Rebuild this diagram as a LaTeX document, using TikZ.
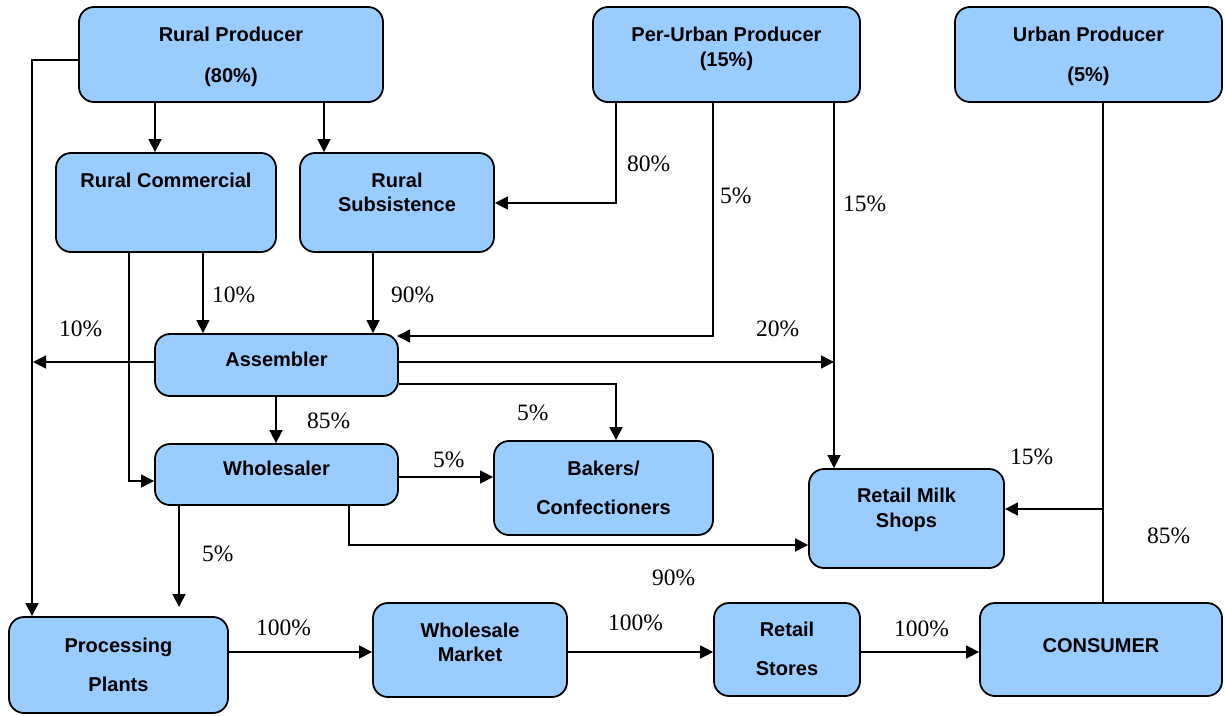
\documentclass[tikz,border=0pt]{standalone}
\usepackage{fontspec}
\setmainfont{Liberation Serif}
\newfontfamily\boxfont{Liberation Sans}
\usetikzlibrary{arrows.meta}
\definecolor{boxblue}{RGB}{153,204,255}
\tikzset{
  box/.style={draw=black, line width=1.8pt, rounded corners=15pt, fill=boxblue, inner sep=0pt},
  btxt/.style={anchor=base, inner sep=0pt, font=\boxfont\bfseries\fontsize{20}{24}\selectfont},
  pct/.style={anchor=base west, inner sep=0pt, font=\fontsize{23.5}{28}\selectfont},
  line/.style={draw=black, line width=1.5pt},
  arr/.style={line, -{Triangle[length=13pt,width=13pt]}}
}
\begin{document}
\begin{tikzpicture}[x=1pt,y=-1pt]
\useasboundingbox (0,0) rectangle (1225,715);
% boxes
\node[box, minimum width=304pt, minimum height=95pt] (rp) at (231,54.5) {};
\node[box, minimum width=220pt, minimum height=99pt] (rc) at (166,202.5) {};
\node[box, minimum width=194pt, minimum height=99pt] (rs) at (397,202.5) {};
\node[box, minimum width=267pt, minimum height=95pt] (pu) at (726.5,54.5) {};
\node[box, minimum width=267pt, minimum height=95pt] (up) at (1088.5,54.5) {};
\node[box, minimum width=243pt, minimum height=62pt] (as) at (276.5,365) {};
\node[box, minimum width=243pt, minimum height=61pt] (ws) at (276.5,474.5) {};
\node[box, minimum width=219pt, minimum height=94pt] (bk) at (603.5,488) {};
\node[box, minimum width=195pt, minimum height=99pt] (rm) at (906.5,518.5) {};
\node[box, minimum width=219pt, minimum height=96pt] (pp) at (118.5,665) {};
\node[box, minimum width=194pt, minimum height=94pt] (wm) at (470,650) {};
\node[box, minimum width=146pt, minimum height=93pt] (rt) at (787,649.5) {};
\node[box, minimum width=242pt, minimum height=93pt] (cs) at (1101,649.5) {};
% box texts
\node[btxt] (rp1) at (231,41.7) {Rural Producer};
\node[btxt] (rp2) at (231,82) {(80\%)};
\node[btxt] (rc1) at (166,187) {Rural Commercial};
\node[btxt] (rs1) at (397,187) {Rural};
\node[btxt] (rs2) at (397,211.5) {Subsistence};
\node[btxt] (pu1) at (726.5,41.7) {Per-Urban Producer};
\node[btxt] (pu2) at (726.5,66.5) {(15\%)};
\node[btxt] (up1) at (1088.5,41.7) {Urban Producer};
\node[btxt] (up2) at (1088.5,81.7) {(5\%)};
\node[btxt] (as1) at (276.5,366) {Assembler};
\node[btxt] (ws1) at (276.5,475) {Wholesaler};
\node[btxt] (bk1) at (603.5,475) {Bakers/};
\node[btxt] (bk2) at (603.5,514) {Confectioners};
\node[btxt] (rm1) at (906.5,502) {Retail Milk};
\node[btxt] (rm2) at (906.5,527) {Shops};
\node[btxt] (pp1) at (118.5,652) {Processing};
\node[btxt] (pp2) at (118.5,691) {Plants};
\node[btxt] (wm1) at (470,637) {Wholesale};
\node[btxt] (wm2) at (470,661) {Market};
\node[btxt] (rt1) at (787,636) {Retail};
\node[btxt] (rt2) at (787,675) {Stores};
\node[btxt] (cs1) at (1101,652) {CONSUMER};
% free-end coordinates
\coordinate (lj) at (33,362);
\coordinate (rj) at (834,362);
\coordinate (pf) at (179,607);
\coordinate (uj) at (1103,509);
% connectors
\draw[arr] (rp.west |- 0,60) -| (pp.north -| 32,0);
\draw[arr] (rp.south -| 155,0) -- (rc.north -| 155,0);
\draw[arr] (rp.south -| 324,0) -- (rs.north -| 324,0);
\draw[arr] (pu.south -| 616,0) |- (rs.east |- 0,203);
\draw[arr] (pu.south -| 713,0) |- (397,336);
\draw[arr] (pu.south -| 834,0) -- (rm.north -| 834,0);
\draw[arr] (rc.south -| 129,0) |- (ws.west |- 0,481);
\draw[arr] (rc.south -| 203,0) -- (as.north -| 203,0);
\draw[arr] (rs.south -| 373,0) -- (as.north -| 373,0);
\draw[arr] (as.west |- 0,362) -- (lj);
\draw[arr] (as.east |- 0,362) -- (rj);
\draw[arr] (as.east |- 0,384) -| (bk.north -| 616,0);
\draw[arr] (as.south -| 276,0) -- (ws.north -| 276,0);
\draw[arr] (ws.east |- 0,477) -- (bk.west |- 0,477);
\draw[arr] (ws.south -| 349,0) |- (rm.west |- 0,545);
\draw[arr] (ws.south -| 179,0) -- (pf);
\draw[line] (up.south -| 1103,0) -- (cs.north -| 1103,0);
\draw[arr] (uj) -- (rm.east |- 0,509);
\draw[arr] (pp.east |- 0,652) -- (wm.west |- 0,652);
\draw[arr] (wm.east |- 0,652) -- (rt.west |- 0,652);
\draw[arr] (rt.east |- 0,652) -- (cs.west |- 0,652);
% percentage labels
\node[pct] (l1) at (627,171) {80\%};
\node[pct] (l2) at (720,203) {5\%};
\node[pct] (l3) at (843,211) {15\%};
\node[pct] (l4) at (212,302) {10\%};
\node[pct] (l5) at (391,302) {90\%};
\node[pct] (l6) at (59,336) {10\%};
\node[pct] (l7) at (756,336) {20\%};
\node[pct] (l8) at (307,428) {85\%};
\node[pct] (l9) at (517,420) {5\%};
\node[pct] (l10) at (433,467) {5\%};
\node[pct] (l11) at (1010,464) {15\%};
\node[pct] (l12) at (1147,543) {85\%};
\node[pct] (l13) at (652,585) {90\%};
\node[pct] (l14) at (202,561) {5\%};
\node[pct] (l15) at (256,635) {100\%};
\node[pct] (l16) at (608,630) {100\%};
\node[pct] (l17) at (894,636) {100\%};
\end{tikzpicture}
\end{document}
